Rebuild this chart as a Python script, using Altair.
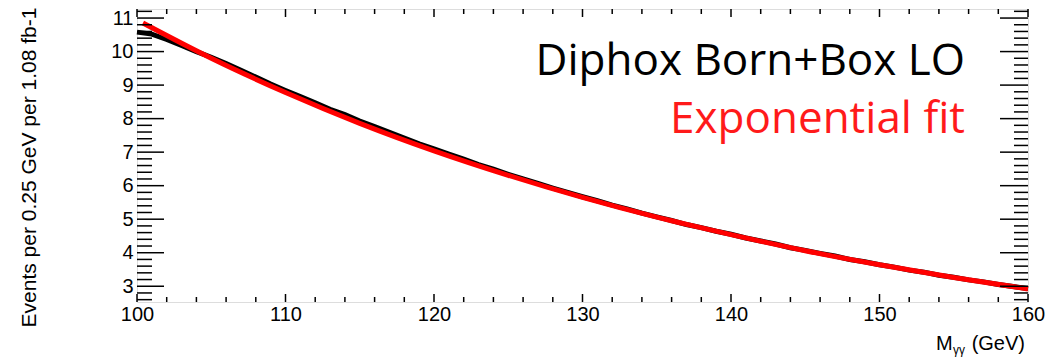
import altair as alt
import pandas as pd

# ---- data ----
data_mass = list(range(100, 161))
data_events = [10.58, 10.52, 10.36, 10.18, 10.00, 9.83, 9.64, 9.44, 9.24, 9.03,
               8.84, 8.66, 8.47, 8.28, 8.12, 7.93, 7.76, 7.59, 7.42, 7.25,
               7.10, 6.94, 6.79, 6.63, 6.49, 6.34, 6.20, 6.07, 5.93, 5.80,
               5.67, 5.55, 5.42, 5.31, 5.18, 5.07, 4.96, 4.84, 4.75, 4.64,
               4.55, 4.44, 4.35, 4.26, 4.15, 4.07, 3.98, 3.90, 3.80, 3.73,
               3.64, 3.57, 3.48, 3.42, 3.33, 3.27, 3.19, 3.13, 3.05, 2.99, 2.93]
fit_mass = [100.4, 105, 110, 115, 120, 125, 130, 135, 140, 145, 150, 155, 160]
fit_events = [10.85, 9.80, 8.78, 7.86, 7.04, 6.31, 5.65, 5.06, 4.54, 4.06, 3.64, 3.26, 2.92]

x_major = [100, 110, 120, 130, 140, 150, 160]
x_minor = [v for v in range(100, 161, 2) if v % 10 != 0]
y_major = [3, 4, 5, 6, 7, 8, 9, 10, 11]
y_minor = [round(2.6 + 0.2 * i, 1) for i in range(44)]
y_minor = [v for v in y_minor if abs(v - round(v)) > 1e-6 and v < 11.27]

legend_lines = ["Diphox Born+Box LO", "Exponential fit"]
legend_colors = ["#000000", "#ff1a1a"]
y_title = "Events per 0.25 GeV per 1.08 fb-1"

W, H = 891, 293
xs = alt.Scale(domain=[100, 160], nice=False, zero=False)
ys = alt.Scale(domain=[2.53, 11.27], nice=False, zero=False)
xaxis = alt.Axis(values=x_major, tickSize=0, domain=False, grid=False,
                 labelFontSize=20, labelFont="Liberation Sans",
                 labelColor="black", labelPadding=2, title=None, labelFlush=False)
yaxis = alt.Axis(values=y_major, tickSize=0, domain=False, grid=False,
                 labelFontSize=20, labelFont="Liberation Sans",
                 labelColor="black", labelPadding=4, title=None, labelFlush=False)

df_data = pd.DataFrame({"m": data_mass, "n": data_events})
df_fit = pd.DataFrame({"m": fit_mass, "n": fit_events})

black = alt.Chart(df_data).mark_line(color="black", strokeWidth=5).encode(
    x=alt.X("m:Q", scale=xs, axis=xaxis, title=None),
    y=alt.Y("n:Q", scale=ys, axis=yaxis, title=None),
)
red = alt.Chart(df_fit).mark_line(color="#ff0000", strokeWidth=5, interpolate="monotone").encode(
    x=alt.X("m:Q", scale=xs, axis=xaxis, title=None),
    y=alt.Y("n:Q", scale=ys, axis=yaxis, title=None))

def yticks(vals, x1, x2):
    return alt.Chart(pd.DataFrame({"n": vals})).mark_rule(color="black", strokeWidth=1.5).encode(
        y=alt.Y("n:Q", scale=ys, axis=yaxis, title=None), x=alt.value(x1), x2=alt.value(x2))

def xticks(vals, y1, y2):
    return alt.Chart(pd.DataFrame({"m": vals})).mark_rule(color="black", strokeWidth=1.5).encode(
        x=alt.X("m:Q", scale=xs, axis=xaxis, title=None), y=alt.value(y1), y2=alt.value(y2))

ticks = [
    yticks(y_major, 0, 27), yticks(y_minor, 0, 15),
    yticks(y_major, W, W - 28), yticks(y_minor, W, W - 14),
    xticks(x_major, H, H - 8), xticks(x_minor, H, H - 5),
    xticks(x_major, 0, 8), xticks(x_minor, 0, 5),
]

def label(text, x, y, size, color="black", align="right", angle=0, font="Liberation Sans", baseline="alphabetic"):
    kw = dict(align=align, baseline=baseline, fontSize=size, font=font, color=color)
    if angle:
        kw["angle"] = angle
    return alt.Chart(pd.DataFrame({"t": [text]})).mark_text(**kw).encode(
        text="t:N", x=alt.value(x), y=alt.value(y))

texts = [
    label(legend_lines[0], 828, 66, 44, legend_colors[0], font="Open Sans"),
    label(legend_lines[1], 828, 124, 44, legend_colors[1], font="Open Sans"),
    label(y_title, -107.5, 158.5, 21, angle=270, align="center", baseline="middle"),
    label("M", 799, 341, 20, align="left"),
    label("γγ", 816, 345, 12, align="left"),
    label("(GeV)", 888, 341, 20, align="right"),
]

chart = alt.layer(black, red, *ticks, *texts).properties(
    width=W, height=H,
    padding={"left": 137, "top": 9, "right": 26, "bottom": 59},
    autosize="none",
).configure_view(stroke="black", strokeWidth=1.5).configure(background="white")

chart.save("out.html", embed_options={"renderer": "svg", "actions": False})
